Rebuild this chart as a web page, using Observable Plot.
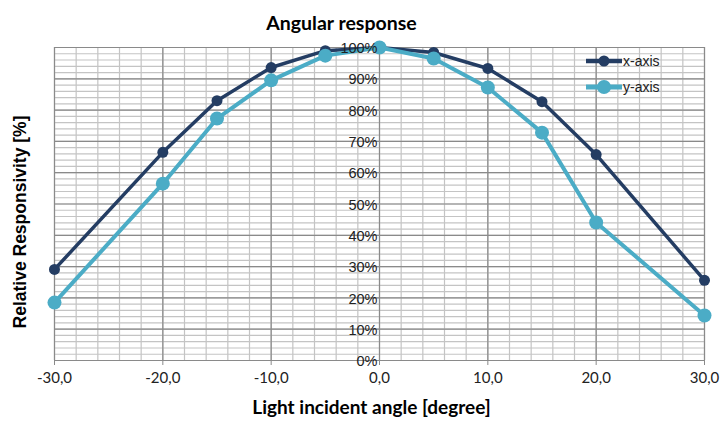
<!DOCTYPE html>
<html><head><meta charset="utf-8">
<script src="https://cdn.jsdelivr.net/npm/d3@7"></script>
<script src="https://cdn.jsdelivr.net/npm/@observablehq/plot@0.6"></script>
<style>
body{margin:0;background:#fff;}
#wrap{position:relative;width:721px;height:427px;}
</style>
</head><body><div id="wrap"></div>
<script>
const angles = [-30, -20, -15, -10, -5, 0, 5, 10, 15, 20, 30];
const xAxisValues = [0.291, 0.665, 0.830, 0.936, 0.990, 1.000, 0.984, 0.933, 0.827, 0.658, 0.256];
const yAxisValues = [0.185, 0.565, 0.773, 0.895, 0.974, 1.000, 0.965, 0.872, 0.728, 0.441, 0.144];
const seriesNames = ["x-axis", "y-axis"];
const xTicks = [-30, -20, -10, 0, 10, 20, 30];
const yTicks = [0, 0.1, 0.2, 0.3, 0.4, 0.5, 0.6, 0.7, 0.8, 0.9, 1.0];
const title = "Angular response";
const xLabel = "Light incident angle [degree]";
const yLabel = "Relative Responsivity [%]";

const colors = {"x-axis": "#243d63", "y-axis": "#4bacc6"};
const rows = [];
angles.forEach((a, i) => {
  rows.push({angle: a, value: xAxisValues[i], series: "x-axis"});
  rows.push({angle: a, value: yAxisValues[i], series: "y-axis"});
});
const xMinor = d3.range(-30, 31, 2);
const yMinor = d3.range(0, 101, 2).map(d => d / 100);
const fmtX = d => d3.format(".1f")(d).replace(".", ",").replace("−", "-");
const fmtY = d => Math.round(d * 100) + "%";

const chart = Plot.plot({
  width: 721, height: 427,
  marginLeft: 54, marginRight: 17, marginTop: 47, marginBottom: 67,
  style: {fontFamily: "'Liberation Sans', Arial, sans-serif", background: "#fff"},
  x: {domain: [-30, 30], label: null, axis: null},
  y: {domain: [0, 1], label: null, axis: null},
  marks: [
    Plot.ruleX(xMinor, {stroke: "#c4c4c4", strokeWidth: 1.2}),
    Plot.ruleY(yMinor, {stroke: "#c4c4c4", strokeWidth: 1.2}),
    Plot.ruleX(xTicks, {stroke: "#8a8a8a", strokeWidth: 1.2}),
    Plot.ruleY(yTicks, {stroke: "#8a8a8a", strokeWidth: 1.2}),
    Plot.axisX({ticks: xTicks, tickFormat: fmtX, tickSize: 5, stroke: "#8a8a8a", color: "#222",
      fontSize: 15, fontFamily: "Lato, sans-serif", tickPadding: 7, label: null}),
    Plot.line(rows.filter(d => d.series === "x-axis"), {x: "angle", y: "value", stroke: colors["x-axis"], strokeWidth: 3.5}),
    Plot.line(rows.filter(d => d.series === "y-axis"), {x: "angle", y: "value", stroke: colors["y-axis"], strokeWidth: 4}),
    Plot.dot(rows.filter(d => d.series === "x-axis"), {x: "angle", y: "value", fill: colors["x-axis"], r: 5.5}),
    Plot.dot(rows.filter(d => d.series === "y-axis"), {x: "angle", y: "value", fill: colors["y-axis"], r: 7}),
    Plot.text(yTicks, {x: 0, y: d => d, text: fmtY, textAnchor: "end", dx: -2, dy: 1, fontSize: 14.5, fill: "#222"}),
    Plot.text([title], {frameAnchor: "top-left", textAnchor: "middle", dx: 287, dy: -31, text: d => d, fontSize: 19.5, fontWeight: "bold",
      fontFamily: "Lato, sans-serif", fill: "#000"}),
    Plot.text([xLabel], {frameAnchor: "bottom", textAnchor: "middle", dx: -8, dy: 53, text: d => d, fontSize: 19, fontWeight: "bold",
      fontFamily: "Lato, sans-serif", fill: "#000"}),
    Plot.text([yLabel], {frameAnchor: "left", textAnchor: "middle", dx: -34, dy: 18, rotate: -90, text: d => d, fontSize: 17.5, fontWeight: "bold",
      fill: "#000"})
  ]
});
const wrap = document.getElementById("wrap");
wrap.appendChild(chart);

// legend
const leg = document.createElement("div");
leg.style.cssText = "position:absolute;left:586px;top:48px;font:14px 'Liberation Sans',Arial,sans-serif;color:#222;line-height:26px;";
seriesNames.forEach(name => {
  const r = name === "x-axis" ? 5.5 : 7;
  const sw = name === "x-axis" ? 3.5 : 4;
  const row = document.createElement("div");
  row.style.cssText = "display:flex;align-items:center;height:26px;";
  row.innerHTML = `<svg width="36" height="16" style="margin-right:1px"><line x1="0" x2="36" y1="8" y2="8" stroke="${colors[name]}" stroke-width="${sw + 1}"/><circle cx="18" cy="8" r="${r}" fill="${colors[name]}"/></svg><span>${name}</span>`;
  leg.appendChild(row);
});
wrap.appendChild(leg);
</script>
</body></html>
